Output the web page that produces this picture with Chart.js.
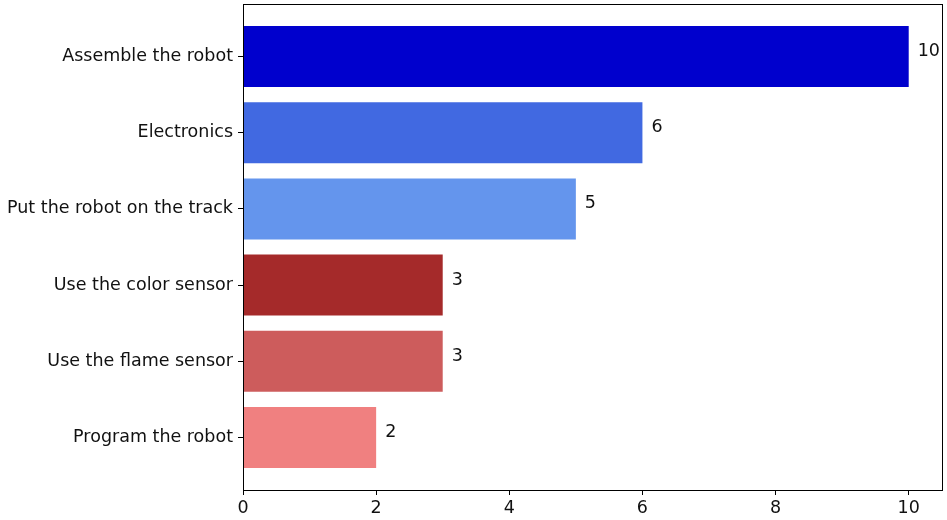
<!DOCTYPE html>
<html>
<head>
<meta charset="utf-8">
<script src="https://cdn.jsdelivr.net/npm/chart.js@4"></script>
<style>
  html, body { margin: 0; padding: 0; background: #fff; }
  #wrap { width: 947px; height: 520px; }
</style>
</head>
<body>
<div id="wrap"><canvas id="graphe"></canvas></div>
<script>
const tasks = ["Assemble the robot", "Electronics", "Put the robot on the track",
               "Use the color sensor", "Use the flame sensor", "Program the robot"];
const counts = [10, 6, 5, 3, 3, 2];
const barColors = ["#0000CD", "#4169E1", "#6495ED", "#A52A2A", "#CD5C5C", "#F08080"];
const xTicks = [0, 2, 4, 6, 8, 10];

const fontSize = 17.5;
Chart.defaults.font.family = "'DejaVu Sans', sans-serif";
Chart.defaults.color = "#111";

// --- box around the plot + value labels ---
const boxAndLabels = {
    id: 'boxAndLabels',
    afterDatasetsDraw(chart) {
        const ctx = chart.ctx;
        const a = chart.chartArea;
        const xs = chart.scales.x, ys = chart.scales.y;
        ctx.save();
        ctx.strokeStyle = "#000";
        ctx.lineWidth = 1;
        ctx.strokeRect(a.left + 0.5, a.top + 0.5, a.right - a.left, a.bottom - a.top);
        ctx.font = fontSize + "px 'DejaVu Sans', sans-serif";
        ctx.fillStyle = "#111";
        ctx.textBaseline = "middle";
        ctx.textAlign = "left";
        counts.forEach((v, i) => {
            ctx.fillText(String(v), xs.getPixelForValue(v) + 9, ys.getPixelForValue(i) - 5);
        });
        ctx.restore();
    }
};

new Chart(document.getElementById("graphe"), {
    type: "bar",
    data: {
        datasets: [{
            data: counts.map((v, i) => ({ x: v, y: i })),
            backgroundColor: barColors,
            borderWidth: 0,
            categoryPercentage: 0.8,
            barPercentage: 1.0
        }]
    },
    options: {
        indexAxis: "y",
        responsive: true,
        maintainAspectRatio: false,
        animation: false,
        layout: { padding: { top: 4, right: 5, left: 0, bottom: 0 } },
        plugins: { legend: { display: false }, tooltip: { enabled: false } },
        scales: {
            x: {
                type: "linear",
                min: 0,
                max: 10.5,
                afterBuildTicks: s => { s.ticks = xTicks.map(v => ({ value: v })); },
                afterFit: s => { s.height = 30; s.paddingLeft = 0; s.paddingRight = 0; },
                grid: { drawOnChartArea: false, tickLength: 5, color: "#000" },
                border: { color: "#000" },
                ticks: { font: { size: fontSize }, padding: 3, maxRotation: 0 }
            },
            y: {
                type: "linear",
                reverse: true,
                offset: false,
                min: -0.69,
                max: 5.69,
                afterBuildTicks: s => { s.ticks = tasks.map((t, i) => ({ value: i })); },
                afterFit: s => { s.width = 243; s.paddingTop = 0; s.paddingBottom = 0; },
                grid: { drawOnChartArea: false, offset: false, tickLength: 5, color: "#000" },
                border: { color: "#000" },
                ticks: {
                    font: { size: fontSize },
                    padding: 5,
                    callback: v => tasks[v] ?? ""
                }
            }
        }
    },
    plugins: [boxAndLabels]
});
</script>
</body>
</html>
